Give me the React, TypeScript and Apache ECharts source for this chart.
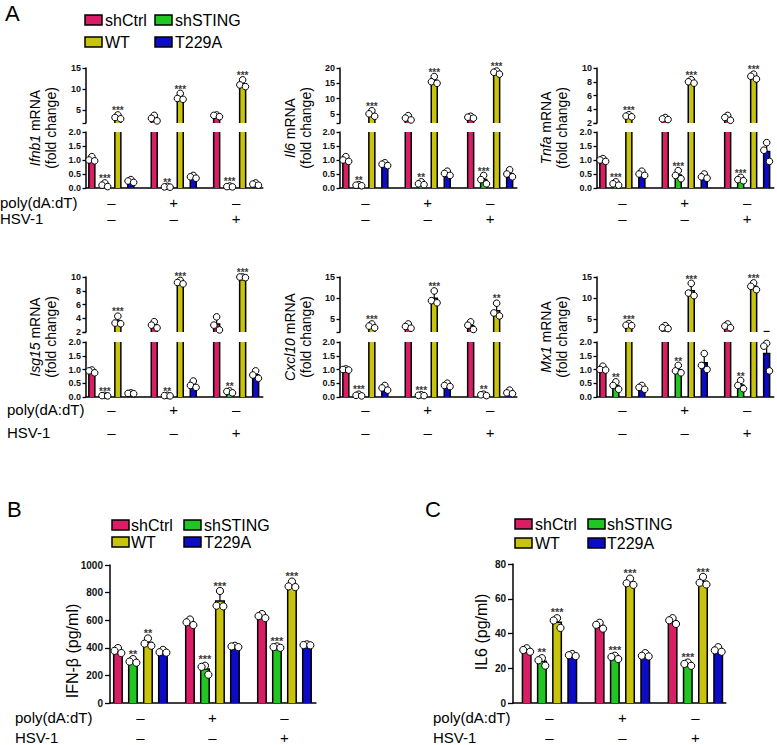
import React, { useEffect, useRef } from "react";
import * as echarts from "echarts";

const FONT = "'Liberation Sans', Arial, Helvetica, sans-serif";

const genotypes = ["shCtrl", "shSTING", "WT", "T229A"];
const genotypeColors = ["#D91E66", "#22C622", "#C8C30C", "#0B0BC8"];
const polySigns = ["\u2013", "+", "\u2013"];
const hsvSigns = ["\u2013", "\u2013", "+"];

// values: [condition group][genotype][replicate]
const ifnb1Values = [
  [[1.12, 1.0, 0.97], [0.18, 0.1, 0.05], [3.9, 3.3, 3.0], [0.3, 0.25, 0.2]],
  [[3.8, 3.1, 2.5], [0.06, 0.04, 0.03], [9.0, 7.8, 7.6], [0.45, 0.4, 0.35]],
  [[3.9, 3.8, 3.5], [0.07, 0.05, 0.04], [12.2, 11.0, 10.6], [0.18, 0.14, 0.1]],
];
const ifnb1Stars = [["", "***", "***", ""], ["", "**", "***", ""], ["", "***", "***", ""]];

const il6Values = [
  [[1.12, 1.0, 0.95], [0.12, 0.1, 0.08], [6.0, 5.0, 4.2], [0.9, 0.85, 0.8]],
  [[4.4, 3.6, 3.0], [0.22, 0.15, 0.12], [17.2, 15.5, 15.0], [0.6, 0.52, 0.45]],
  [[4.2, 3.9, 3.6], [0.45, 0.3, 0.15], [19.0, 18.6, 18.0], [0.65, 0.5, 0.4]],
];
const il6Stars = [["", "**", "***", ""], ["", "**", "***", ""], ["", "***", "***", ""]];

const tnfaValues = [
  [[1.05, 1.0, 0.95], [0.22, 0.15, 0.1], [3.2, 3.0, 2.9], [0.6, 0.5, 0.45]],
  [[2.8, 2.6, 2.5], [0.62, 0.45, 0.33], [8.3, 8.0, 7.8], [0.5, 0.4, 0.35]],
  [[3.1, 2.8, 2.4], [0.38, 0.3, 0.26], [9.1, 8.8, 8.4], [1.62, 1.35, 0.95]],
];
const tnfaStars = [["", "***", "***", ""], ["", "***", "***", ""], ["", "***", "***", ""]];

const isg15Values = [
  [[0.98, 0.95, 0.88], [0.06, 0.05, 0.04], [4.3, 3.3, 3.2], [0.15, 0.13, 0.12]],
  [[3.5, 3.0, 2.6], [0.06, 0.05, 0.04], [9.5, 9.2, 9.0], [0.58, 0.42, 0.35]],
  [[4.2, 3.0, 2.3], [0.22, 0.2, 0.15], [10.0, 10.0, 9.9], [0.95, 0.8, 0.68]],
];
const isg15Stars = [["", "***", "***", ""], ["", "**", "***", ""], ["", "**", "***", ""]];

const cxcl10Values = [
  [[1.02, 1.0, 0.98], [0.1, 0.06, 0.04], [3.9, 3.4, 3.0], [0.42, 0.33, 0.25]],
  [[3.9, 3.3, 2.9], [0.08, 0.06, 0.05], [11.7, 9.4, 8.9], [0.5, 0.42, 0.38]],
  [[4.4, 3.6, 2.6], [0.1, 0.08, 0.05], [8.8, 6.5, 5.8], [0.25, 0.15, 0.12]],
];
const cxcl10Stars = [["", "***", "***", ""], ["", "***", "***", ""], ["", "**", "**", ""]];

const mx1Values = [
  [[1.12, 1.0, 0.98], [0.55, 0.42, 0.28], [4.0, 3.6, 3.5], [0.42, 0.35, 0.28]],
  [[3.5, 3.0, 2.8], [1.15, 0.95, 0.88], [13.5, 11.2, 10.6], [1.58, 1.15, 1.0]],
  [[3.9, 3.4, 3.0], [0.6, 0.42, 0.3], [13.6, 12.8, 12.0], [1.95, 1.85, 0.95]],
];
const mx1Stars = [["", "**", "***", ""], ["", "**", "***", ""], ["", "**", "***", ""]];

const ifnbProteinValues = [
  [[398, 378, 362], [318, 300, 292], [468, 430, 415], [385, 368, 365]],
  [[605, 585, 565], [270, 262, 205], [812, 705, 700], [415, 410, 405]],
  [[645, 630, 615], [410, 405, 400], [880, 845, 840], [425, 420, 418]],
];
const ifnbProteinStars = [["", "**", "**", ""], ["", "***", "***", ""], ["", "***", "***", ""]];

const il6ProteinValues = [
  [[31.5, 30.5, 29.5], [25.8, 24.6, 21.5], [48.8, 47.5, 43.2], [28.2, 27.5, 27.0]],
  [[46.2, 45.0, 42.8], [27.2, 26.5, 25.3], [71.6, 68.9, 68.0], [28.7, 27.2, 26.8]],
  [[48.8, 47.6, 45.5], [23.3, 22.5, 21.4], [72.6, 69.2, 68.2], [32.1, 30.3, 29.5]],
];
const il6ProteinStars = [["", "**", "***", ""], ["", "***", "***", ""], ["", "***", "***", ""]];

// tick values
const lowerTicks = [0, 0.5, 1, 1.5, 2];
const upper15Labels = [5, 10, 15];
const upper20Labels = [5, 10, 15, 20];
const upper10Labels = [2, 4, 6, 8, 10];
const ifnbProteinTicks = [0, 200, 400, 600, 800, 1000];
const il6ProteinTicks = [0, 20, 40, 60, 80];

const GROUP_STEP = 4.8;

function stats(reps: number[]) {
  const n = reps.length;
  const mean = reps.reduce((a, b) => a + b, 0) / n;
  const sd = Math.sqrt(reps.reduce((a, b) => a + (b - mean) * (b - mean), 0) / (n - 1));
  return { mean, sd };
}

function buildData(values: number[][][]) {
  const out: number[][] = [];
  values.forEach((grp, g) =>
    grp.forEach((reps, b) => {
      const { mean, sd } = stats(reps);
      out.push([g * GROUP_STEP + b, mean, sd, ...reps]);
    })
  );
  return out;
}

type Style = { bw: number; r: number; off: number; cap: number; starSize: number };

function txt(text: string, x: number, y: number, fontSize: number, align: string, valign: string, fill = "#000", fontWeight = "normal") {
  return {
    type: "text",
    style: { text, x, y, fontSize, fontFamily: FONT, fill, align, verticalAlign: valign, fontWeight },
  };
}

function barRenderer(stars: string[][], lo: number, hi: number, isUpper: boolean, st: Style) {
  return (params: any, api: any) => {
    const i = params.dataIndex;
    const g = Math.floor(i / 4);
    const b = i % 4;
    const x = api.value(0);
    const mean = api.value(1);
    const sd = api.value(2);
    const reps = [api.value(3), api.value(4), api.value(5)];
    const yOf = (v: number) => api.coord([x, v])[1];
    const cx = api.coord([x, lo])[0];
    const inSeg = (v: number) => (isUpper ? v > lo && v <= hi : v >= lo && v <= hi);
    const line = (x1: number, y1: number, x2: number, y2: number, w = 1.5) => ({
      type: "line",
      shape: { x1, y1, x2, y2 },
      style: { stroke: "#000", lineWidth: w },
    });
    const children: any[] = [];
    if (mean > lo) {
      const clipped = mean > hi;
      const yTop = yOf(Math.min(mean, hi));
      const yBase = yOf(lo);
      const l = cx - st.bw / 2;
      const r = cx + st.bw / 2;
      children.push({
        type: "rect",
        shape: { x: l, y: yTop, width: st.bw, height: yBase - yTop },
        style: { fill: genotypeColors[b] },
      });
      if (clipped) {
        children.push(line(l, yBase, l, yTop), line(r, yBase, r, yTop));
      } else {
        children.push({
          type: "polyline",
          shape: { points: [[l, yBase], [l, yTop], [r, yTop], [r, yBase]] },
          style: { stroke: "#000", lineWidth: 1.5, fill: null },
        });
      }
    }
    const eTop = mean + sd;
    const a = Math.max(mean, lo);
    const c = Math.min(eTop, hi);
    if (sd > 0 && c > a) children.push(line(cx, yOf(a), cx, yOf(c), 1.2));
    if (sd > 0 && inSeg(eTop)) children.push(line(cx - st.cap, yOf(eTop), cx + st.cap, yOf(eTop), 1.2));
    const offs = [0, -st.off, st.off];
    reps.forEach((p, k) => {
      if (inSeg(p)) {
        children.push({
          type: "circle",
          shape: { cx: cx + offs[k], cy: yOf(p), r: st.r },
          style: { fill: "#fff", stroke: "#000", lineWidth: 1 },
        });
      }
    });
    const star = stars[g][b];
    const top = Math.max(eTop, ...reps);
    const starOk = isUpper ? top > lo : top <= hi;
    if (star && starOk) {
      children.push(txt(star, cx, yOf(top) - st.r + 4, st.starSize, "center", "bottom", "#3a3a3a", "bold"));
    }
    return { type: "group", children };
  };
}

function signRenderer(dy1: number, dy2: number, fs: number) {
  return (params: any, api: any) => {
    const g = params.dataIndex;
    const p = api.coord([api.value(0), api.value(1)]);
    return {
      type: "group",
      children: [
        txt(polySigns[g], p[0], p[1] + dy1, fs, "center", "middle"),
        txt(hsvSigns[g], p[0], p[1] + dy2, fs, "center", "middle"),
      ],
    };
  };
}

const panelsA = [
  { gene: "Ifnb1", values: ifnb1Values, stars: ifnb1Stars, upperMax: 15, upperLabels: upper15Labels },
  { gene: "Il6", values: il6Values, stars: il6Stars, upperMax: 20, upperLabels: upper20Labels },
  { gene: "Tnfa", values: tnfaValues, stars: tnfaStars, upperMax: 10, upperLabels: upper10Labels },
  { gene: "Isg15", values: isg15Values, stars: isg15Stars, upperMax: 10, upperLabels: upper10Labels },
  { gene: "Cxcl10", values: cxcl10Values, stars: cxcl10Stars, upperMax: 15, upperLabels: upper15Labels },
  { gene: "Mx1", values: mx1Values, stars: mx1Stars, upperMax: 15, upperLabels: upper15Labels },
];

function buildOption() {
  const grid: any[] = [];
  const xAxis: any[] = [];
  const yAxis: any[] = [];
  const series: any[] = [];
  const graphic: any[] = [];

  const addGrid = (
    rect: { left: number; top: number; width: number; height: number },
    xMin: number, xMax: number, yMin: number, yMax: number,
    labelValues: number[], tickValues: number[], showX: boolean,
    fontSize: number, fmt: (v: number) => string, tickLen: number, margin: number
  ) => {
    const idx = grid.length;
    grid.push({ ...rect, containLabel: false });
    xAxis.push({
      gridIndex: idx, type: "value", min: xMin, max: xMax, show: showX, position: "bottom",
      axisLine: { show: showX, onZero: false, lineStyle: { color: "#000", width: 1.5 } },
      axisTick: { show: false }, axisLabel: { show: false }, splitLine: { show: false },
    });
    yAxis.push({
      gridIndex: idx, type: "value", min: yMin, max: yMax,
      axisLine: { show: true, onZero: false, lineStyle: { color: "#000", width: 1.5 } },
      axisTick: { show: true, length: tickLen, lineStyle: { color: "#000", width: 1.3 }, customValues: tickValues },
      axisLabel: {
        customValues: labelValues, formatter: (v: number) => fmt(v), fontSize, fontWeight: "bold",
        color: "#111", margin, fontFamily: FONT,
      },
      splitLine: { show: false },
    });
    return idx;
  };

  // ---------- Panel A ----------
  const colLeft = [86, 340, 597];
  const A_PX = 13;
  const A_XMIN = -0.45;
  const A_XMAX = 2 * GROUP_STEP + 3 + 0.55;
  const aWidth = (A_XMAX - A_XMIN) * A_PX;
  const upperTop = [68, 277];
  const lowerTop = [132, 342];
  const lowerH = [56, 55];
  const labelX = [43, 298, 554];
  const labelY = [128, 337];
  const signDy = [[14, 30], [12, 35]];
  const aStyle: Style = { bw: 6, r: 3.3, off: 2.8, cap: 3, starSize: 10 };

  panelsA.forEach((p, k) => {
    const col = k % 3;
    const row = Math.floor(k / 3);
    const data = buildData(p.values);
    const up = addGrid(
      { left: colLeft[col], top: upperTop[row], width: aWidth, height: 55 },
      A_XMIN, A_XMAX, 2, p.upperMax, p.upperLabels, [2, ...p.upperLabels], false, 9,
      (v) => String(v), 3.5, 5
    );
    const lo = addGrid(
      { left: colLeft[col], top: lowerTop[row], width: aWidth, height: lowerH[row] },
      A_XMIN, A_XMAX, 0, 2, lowerTicks, lowerTicks, true, 9, (v) => v.toFixed(1), 3.5, 5
    );
    series.push({
      type: "custom", xAxisIndex: up, yAxisIndex: up, data, silent: true,
      renderItem: barRenderer(p.stars, 2, p.upperMax, true, aStyle),
    });
    series.push({
      type: "custom", xAxisIndex: lo, yAxisIndex: lo, data, silent: true,
      renderItem: barRenderer(p.stars, 0, 2, false, aStyle),
    });
    series.push({
      type: "custom", xAxisIndex: lo, yAxisIndex: lo, silent: true,
      data: [0, 1, 2].map((g) => [g * GROUP_STEP + 1.5, 0]),
      renderItem: signRenderer(signDy[row][0], signDy[row][1], 15),
    });
    graphic.push({
      type: "text", x: labelX[col], y: labelY[row], rotation: Math.PI / 2,
      style: {
        text: "{i|" + p.gene + "} mRNA\n(fold change)",
        fontSize: 14, fontFamily: FONT, fill: "#000", lineHeight: 16,
        align: "center", verticalAlign: "middle",
        rich: {
          i: { fontStyle: "italic", fontSize: 14, fontFamily: FONT, fill: "#000", lineHeight: 16 },
        },
      },
    });
  });

  // ---------- Panel B ----------
  const bStyle: Style = { bw: 8.5, r: 3.6, off: 3.4, cap: 3.5, starSize: 11 };
  const B_XMIN = -0.53;
  const B_XMAX = 2 * GROUP_STEP + 3 + 0.6;
  const bGrid = addGrid(
    { left: 110, top: 565, width: (B_XMAX - B_XMIN) * 15, height: 138 },
    B_XMIN, B_XMAX, 0, 1000, ifnbProteinTicks, ifnbProteinTicks, true, 10,
    (v) => String(v), 5, 7
  );
  const bData = buildData(ifnbProteinValues);
  series.push({
    type: "custom", xAxisIndex: bGrid, yAxisIndex: bGrid, data: bData, silent: true,
    renderItem: barRenderer(ifnbProteinStars, 0, 1000, false, bStyle),
  });
  series.push({
    type: "custom", xAxisIndex: bGrid, yAxisIndex: bGrid, silent: true,
    data: [0, 1, 2].map((g) => [g * GROUP_STEP + 1.5, 0]),
    renderItem: signRenderer(14, 34, 15),
  });

  // ---------- Panel C ----------
  const C_XMIN = -0.9;
  const C_XMAX = 2 * GROUP_STEP + 3 + 0.5;
  const cGrid = addGrid(
    { left: 513, top: 564, width: (C_XMAX - C_XMIN) * 15.2, height: 139 },
    C_XMIN, C_XMAX, 0, 80, il6ProteinTicks, il6ProteinTicks, true, 10,
    (v) => String(v), 5, 7
  );
  const cData = buildData(il6ProteinValues);
  series.push({
    type: "custom", xAxisIndex: cGrid, yAxisIndex: cGrid, data: cData, silent: true,
    renderItem: barRenderer(il6ProteinStars, 0, 80, false, bStyle),
  });
  series.push({
    type: "custom", xAxisIndex: cGrid, yAxisIndex: cGrid, silent: true,
    data: [0, 1, 2].map((g) => [g * GROUP_STEP + 1.5, 0]),
    renderItem: signRenderer(14, 34, 15),
  });

  // ---------- texts ----------
  const gtext = (text: string, x: number, y: number, fontSize: number, align = "left", rotation = 0) => ({
    type: "text", x, y, rotation,
    style: { text, fontSize, fontFamily: FONT, fill: "#000", align, verticalAlign: "middle" },
  });

  graphic.push(gtext("A", 5, 13, 22));
  graphic.push(gtext("B", 7, 509, 22));
  graphic.push(gtext("C", 425, 509, 22));

  graphic.push(gtext("IFN-\u03b2 (pg/ml)", 72, 651, 16, "center", Math.PI / 2));
  graphic.push(gtext("IL6 (pg/ml)", 481, 632, 16, "center", Math.PI / 2));

  const rowLabels = [
    { x: 0, y1: 202, y2: 218 },
    { x: 7, y1: 409, y2: 432 },
    { x: 15, y1: 717, y2: 737 },
    { x: 433, y1: 717, y2: 737 },
  ];
  rowLabels.forEach((r) => {
    graphic.push(gtext("poly(dA:dT)", r.x, r.y1, 15));
    graphic.push(gtext("HSV-1", r.x, r.y2, 15));
  });

  const legends = [
    { boxX: [85, 155], textX: [105, 175], rowY: [20, 42] },
    { boxX: [112, 184], textX: [131, 204], rowY: [525, 542] },
    { boxX: [515, 588], textX: [535, 607], rowY: [524, 543] },
  ];
  legends.forEach((lg) => {
    genotypes.forEach((name, k) => {
      const row = Math.floor(k / 2);
      const col = k % 2;
      graphic.push({
        type: "rect",
        shape: { x: lg.boxX[col], y: lg.rowY[row] - 5, width: 17, height: 10 },
        style: { fill: genotypeColors[k], stroke: "#000", lineWidth: 1.5 },
      });
      graphic.push(gtext(name, lg.textX[col], lg.rowY[row], 16));
    });
  });

  return {
    animation: false,
    backgroundColor: "#fff",
    textStyle: { fontFamily: FONT },
    grid, xAxis, yAxis, series, graphic,
  };
}

export default function App() {
  const ref = useRef<HTMLDivElement>(null);
  useEffect(() => {
    if (!ref.current) return;
    const chart = echarts.init(ref.current, undefined, { renderer: "svg" });
    chart.setOption(buildOption() as any);
    return () => chart.dispose();
  }, []);
  return (
    <div
      ref={ref}
      style={{ position: "absolute", left: 0, top: 0, width: 777, height: 745, background: "#fff" }}
    />
  );
}
